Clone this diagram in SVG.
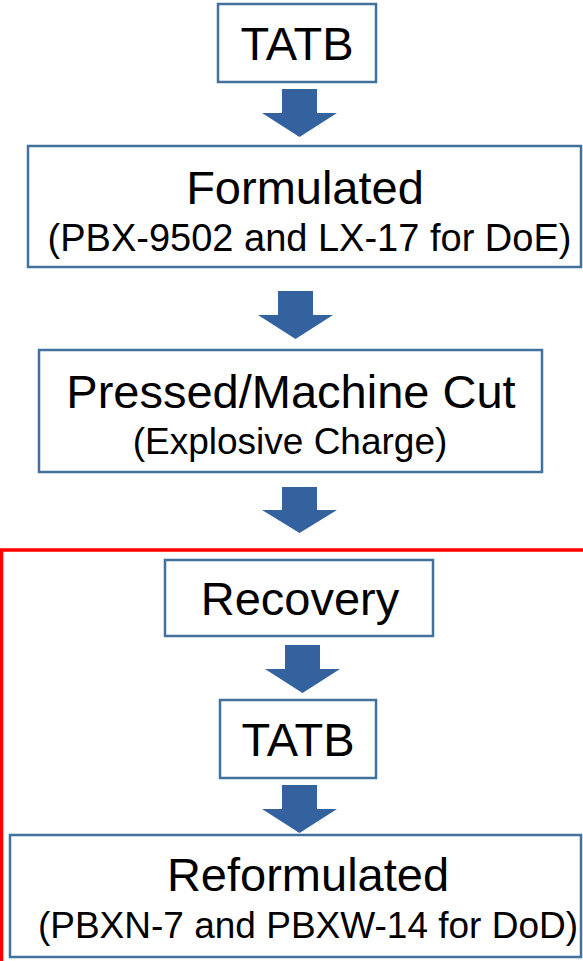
<svg xmlns="http://www.w3.org/2000/svg" width="583" height="961" viewBox="0 0 583 961">
<style>
.box{fill:#fff;stroke:#41719C;stroke-width:2.5}
.t{font-family:"Liberation Sans",Arial,sans-serif;fill:#000;text-anchor:middle}
.main{font-size:47px}
.sub{font-size:37px}
.arr{fill:#33629E}
</style>
<rect x="1.5" y="550" width="640" height="440" fill="none" stroke="#FF0000" stroke-width="3.5"/>
<g id="connectors">
<path class="arr" d="M282,89 H317 V113 H337 L299.5,137 L262,113 H282 Z"/>
<path class="arr" d="M278,291 H313 V315 H333 L295.5,339 L258,315 H278 Z"/>
<path class="arr" d="M282,487 H317 V510 H337 L299.5,533 L262,510 H282 Z"/>
<path class="arr" d="M285,645 H320 V669 H340 L302.5,693 L265,669 H285 Z"/>
<path class="arr" d="M282,785 H317 V809 H337 L299.5,833 L262,809 H282 Z"/>
</g>
<g id="n1"><rect class="box" x="218" y="4" width="158" height="78"/><text class="t main" x="297" y="60">TATB</text></g>
<g id="n2"><rect class="box" x="28" y="146" width="553" height="121"/><text class="t main" x="305" y="204">Formulated</text><text class="t sub" x="309.5" y="251" style="font-size:38px">(PBX-9502 and LX-17 for DoE)</text></g>
<g id="n3"><rect class="box" x="39" y="350" width="503" height="122"/><text class="t main" x="291" y="408">Pressed/Machine Cut</text><text class="t sub" x="290" y="454">(Explosive Charge)</text></g>
<g id="n4"><rect class="box" x="165" y="560" width="268" height="76"/><text class="t main" x="300" y="615">Recovery</text></g>
<g id="n5"><rect class="box" x="220" y="700" width="156" height="78"/><text class="t main" x="298" y="756">TATB</text></g>
<g id="n6"><rect class="box" x="10" y="835" width="571" height="122"/><text class="t main" x="308" y="891">Reformulated</text><text class="t sub" x="308" y="938">(PBXN-7 and PBXW-14 for DoD)</text></g>
</svg>
